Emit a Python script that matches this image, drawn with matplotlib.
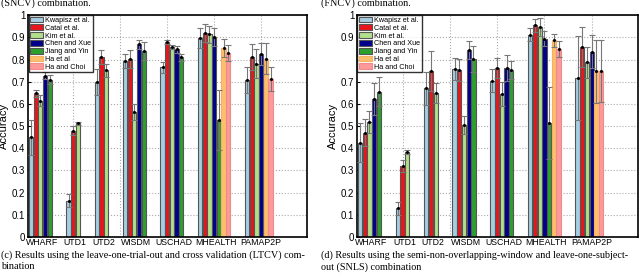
import numpy as np
import matplotlib
matplotlib.use("Agg")
import matplotlib.pyplot as plt

datasets = ['WHARF', 'UTD1', 'UTD2', 'WISDM', 'USCHAD', 'MHEALTH', 'PAMAP2P']
methods = ['Kwapisz et al.', 'Catal et al.', 'Kim et al.', 'Chen and Xue',
           'Jiang and Yin', 'Ha et al', 'Ha and Choi']
colors = ['#a6cee3', '#e8161b', '#b2df8a', '#00008b', '#2ca02c', '#fdbf6f', '#fb9a99']
edges = ['#555555', '#555555', '#555555', '#555555', '#555555', '#f5b060', '#f08a8a']

nan = np.nan
# rows = methods, cols = datasets
ltcv_acc = [
    [0.449, 0.164, 0.700, 0.793, 0.764, 0.895, 0.707],
    [0.647, 0.479, 0.812, 0.803, 0.878, 0.918, 0.812],
    [0.614, 0.512, 0.751, 0.564, 0.857, 0.913, 0.782],
    [0.727, nan,   nan,   0.868, 0.846, 0.900, 0.826],
    [0.709, nan,   nan,   0.838, 0.810, 0.528, nan],
    [nan,   nan,   nan,   nan,   nan,   0.853, 0.803],
    [nan,   nan,   nan,   nan,   nan,   0.830, 0.712],
]
ltcv_err = [
    [0.080, 0.030, 0.058, 0.030, 0.025, 0.045, 0.060],
    [0.015, 0.020, 0.030, 0.040, 0.010, 0.040, 0.060],
    [0.025, 0.005, 0.030, 0.035, 0.010, 0.040, 0.065],
    [0.015, nan,   nan,   0.020, 0.015, 0.040, 0.050],
    [0.020, nan,   nan,   0.040, 0.015, 0.135, nan],
    [nan,   nan,   nan,   nan,   nan,   0.040, 0.070],
    [nan,   nan,   nan,   nan,   nan,   0.035, 0.055],
]
snls_acc = [
    [0.426, 0.129, 0.670, 0.757, 0.705, 0.912, 0.716],
    [0.471, 0.320, 0.749, 0.753, 0.761, 0.954, 0.856],
    [0.517, 0.384, 0.648, 0.505, 0.645, 0.946, 0.788],
    [0.622, nan,   nan,   0.844, 0.761, 0.894, 0.836],
    [0.655, nan,   nan,   0.803, 0.753, 0.514, nan],
    [nan,   nan,   nan,   nan,   nan,   0.886, 0.746],
    [nan,   nan,   nan,   nan,   nan,   0.848, 0.749],
]
snls_err = [
    [0.088, 0.030, 0.075, 0.050, 0.050, 0.030, 0.190],
    [0.060, 0.025, 0.090, 0.050, 0.045, 0.030, 0.090],
    [0.050, 0.010, 0.045, 0.040, 0.055, 0.040, 0.070],
    [0.070, nan,   nan,   0.040, 0.060, 0.035, 0.075],
    [0.065, nan,   nan,   0.060, 0.040, 0.163, nan],
    [nan,   nan,   nan,   nan,   nan,   0.030, 0.140],
    [nan,   nan,   nan,   nan,   nan,   0.035, 0.140],
]
yticks = [0, 0.1, 0.2, 0.3, 0.4, 0.5, 0.6, 0.7, 0.8, 0.9, 1]

acc = np.array(ltcv_acc)
# slot positions: present bars side by side, 3 empty slots between datasets
pos = np.full(acc.shape, nan)
centers = []
p = 1
for j in range(len(datasets)):
    start = p
    for i in range(len(methods)):
        if not np.isnan(acc[i, j]):
            pos[i, j] = p
            p += 1
    centers.append((start + p - 1) / 2)
    p += 3

fig = plt.figure(figsize=(6.4, 2.75), dpi=100)
ax1 = fig.add_axes([0.044, 0.138, 0.436, 0.807])
ax2 = fig.add_axes([0.558, 0.138, 0.439, 0.807])


def draw(ax, a, e, hide=None):
    a = np.array(a)
    e = np.array(e)
    for i, m in enumerate(methods):
        ok = ~np.isnan(a[i])
        ax.bar(pos[i][ok], a[i][ok], width=0.9, color=colors[i], edgecolor=edges[i],
               linewidth=0.8, label=m, zorder=2)
        ax.errorbar(pos[i][ok], a[i][ok], yerr=e[i][ok], fmt='.', color='k', ms=2.5,
                    ecolor='#777777', elinewidth=0.8, capsize=2, capthick=0.8, zorder=3)
    ax.set_xlim(0.4, 59.8)
    ax.set_ylim(0, 1)
    ax.set_yticks(yticks)
    labs = ['0' if t == 0 else ('1' if t == 1 else f'{t:g}') for t in yticks]
    if hide is not None:
        labs[yticks.index(hide)] = ''
    ax.set_yticklabels(labs, fontsize=7, family='Liberation Sans')
    ax.set_xticks([c + 0.4 for c in centers])
    ax.set_xticklabels(datasets, fontsize=6.3, family='Liberation Sans')
    ax.set_xticks([10, 20, 30, 40, 50], minor=True)
    ax.tick_params(axis='x', which='both', length=0, pad=1)
    ax.tick_params(axis='y', direction='in', length=2, pad=2)
    ax.grid(axis='y', linestyle=':', color='#aaaaaa', linewidth=0.8, zorder=0)
    ax.grid(axis='x', which='minor', linestyle=':', color='#aaaaaa', linewidth=0.8, zorder=0)
    ax.set_axisbelow(True)
    for s in ax.spines.values():
        s.set_linewidth(1.2)
    ax.set_ylabel('Accuracy', fontsize=8, family='Liberation Sans')
    ax.yaxis.set_label_coords(-0.068, 0.5)
    leg = ax.legend(loc='upper left', frameon=True, fancybox=False,
                    borderpad=0.15, labelspacing=0.06, handlelength=1.8, handleheight=0.85,
                    handletextpad=0.4, borderaxespad=0.05,
                    prop={'family': 'Liberation Sans', 'size': 5.2})
    leg.get_frame().set_edgecolor('black')
    leg.get_frame().set_linewidth(1.0)


draw(ax1, ltcv_acc, ltcv_err)
draw(ax2, snls_acc, snls_err, hide=0.8)

cap = dict(fontsize=7.3, family='Liberation Serif', va='center', ha='left')
fig.text(0.002, 0.99, '(SNCV) combination.', **cap)
fig.text(0.502, 0.99, '(FNCV) combination.', **cap)
fig.text(0.002, 0.073, '(c) Results using the leave-one-trial-out and cross validation (LTCV) com-', **cap)
fig.text(0.002, 0.030, 'bination', **cap)
fig.text(0.502, 0.073, '(d) Results using the semi-non-overlapping-window and leave-one-subject-', **cap)
fig.text(0.502, 0.030, 'out (SNLS) combination', **cap)

fig.savefig('out.png', dpi=100)
